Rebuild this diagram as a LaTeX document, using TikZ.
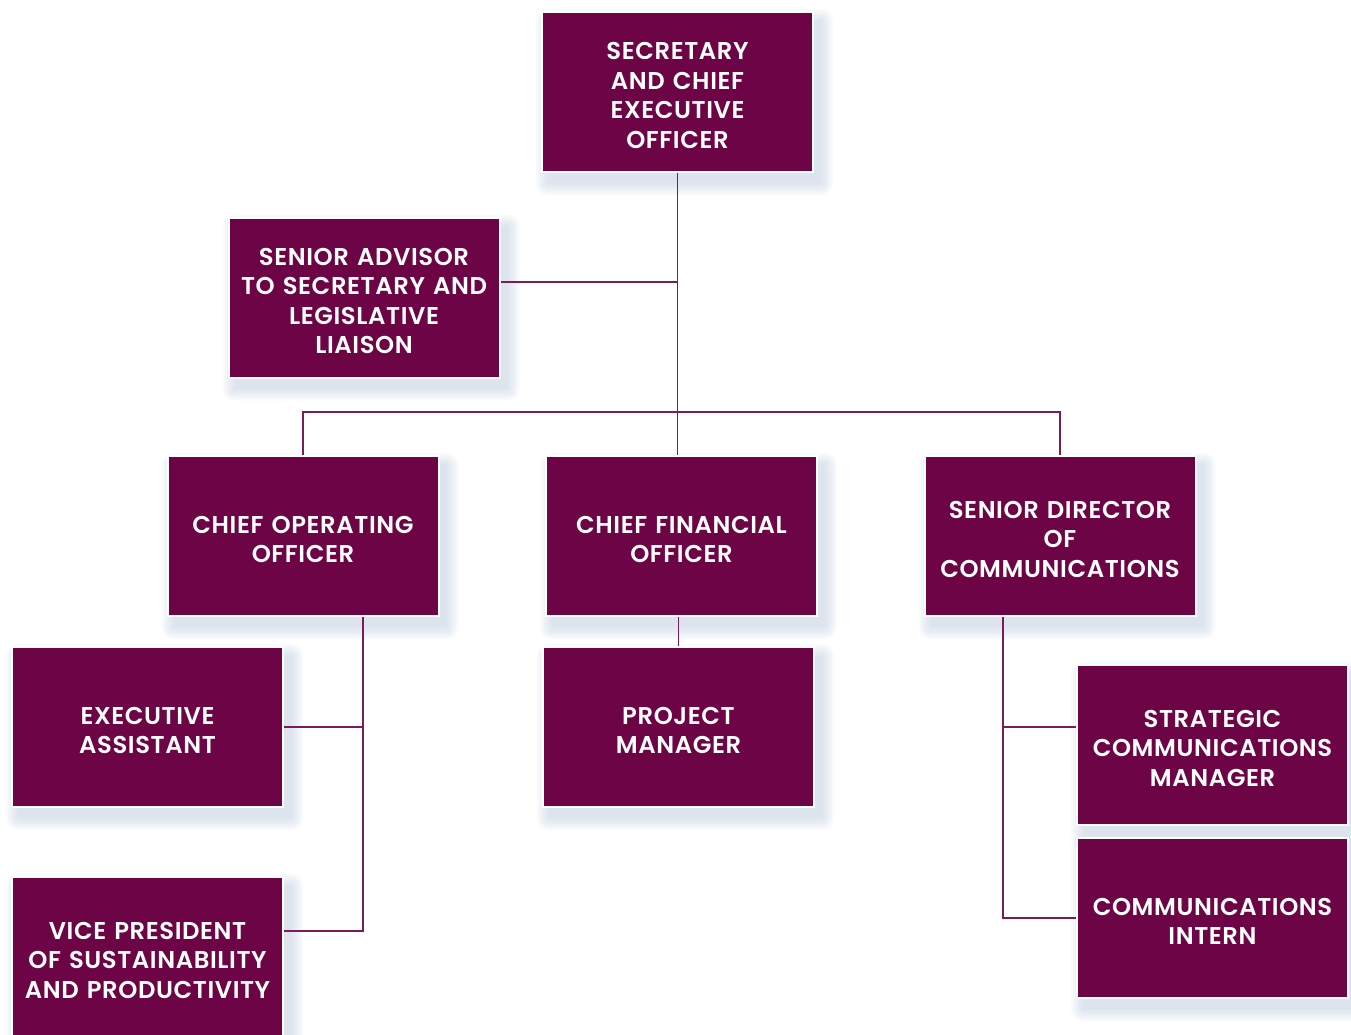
\documentclass[tikz,border=0pt]{standalone}
\usepackage{fontspec}
\setmainfont{Poppins SemiBold}[LetterSpace=2.5]
\usetikzlibrary{calc}
\definecolor{boxc}{HTML}{6D0445}
\definecolor{linec}{HTML}{7B1B57}
\definecolor{shc}{HTML}{B9C8DC}
\pgfdeclarelayer{shadow}
\pgfdeclarelayer{lines}
\pgfsetlayers{shadow,lines,main}
\tikzset{
  orgbox/.style={rectangle, fill=boxc, draw=white, line width=2pt,
    minimum width=271pt, minimum height=160pt, text width=266pt, align=center,
    text=white, inner sep=0pt,
    font=\fontsize{24.3}{29.5}\selectfont,
    execute at begin node={\rule{0pt}{24pt}}},
  conn/.style={draw=linec, line width=1.4pt}
}
\begin{document}
\begin{tikzpicture}[x=1pt,y=-1pt]
\useasboundingbox (0,0) rectangle (1351,1034);
\clip (0,0) rectangle (1351,1034);
\node[orgbox] (ceo) at (677.5,92) {SECRETARY\\AND CHIEF\\EXECUTIVE\\OFFICER};
\node[orgbox] (sa) at (364,297.5) {SENIOR ADVISOR\\TO SECRETARY AND\\LEGISLATIVE\\LIAISON};
\node[orgbox] (coo) at (303,536) {CHIEF OPERATING\\OFFICER};
\node[orgbox] (cfo) at (681.5,536) {CHIEF FINANCIAL\\OFFICER};
\node[orgbox] (sdc) at (1060,536) {SENIOR DIRECTOR\\OF\\COMMUNICATIONS};
\node[orgbox] (ea) at (147.5,727) {EXECUTIVE\\ASSISTANT};
\node[orgbox] (vp) at (147.5,957) {VICE PRESIDENT\\OF SUSTAINABILITY\\AND PRODUCTIVITY};
\node[orgbox] (pm) at (678.5,727) {PROJECT\\MANAGER};
\node[orgbox] (scm) at (1212.5,745) {STRATEGIC\\COMMUNICATIONS\\MANAGER};
\node[orgbox] (ci) at (1212.5,918) {COMMUNICATIONS\\INTERN};
\begin{pgfonlayer}{shadow}
\foreach \n in {ceo,sa,coo,cfo,sdc,ea,vp,pm,scm,ci}{
  \foreach \d in {0,2,...,12}{
    \fill[shc, opacity=0.09, rounded corners=\d pt]
      ($(\n.south west)+(7pt-\d pt,-10pt-\d pt)$) rectangle
      ($(\n.north east)+(7pt+\d pt,-10pt+\d pt)$);
  }
}
\end{pgfonlayer}
\begin{pgfonlayer}{lines}
\coordinate (bus) at (ceo.south |- 0,412);
\draw[conn] (ceo.south) -- (ceo.south |- cfo.north);
\draw[conn] ([yshift=15.5pt]sa.east) -- ([yshift=15.5pt]sa.east -| ceo.south);
\draw[conn] (coo.north) |- (bus) -| (sdc.north);
\coordinate (cb) at ([xshift=60pt]coo.south);
\draw[conn] (cb) |- ([yshift=26pt]vp.east);
\draw[conn] (ea.east) -| (cb);
\draw[conn] (cfo.south -| pm.north) -- (pm.north);
\coordinate (sb) at ([xshift=-57pt]sdc.south);
\draw[conn] (sb) |- (ci.west);
\draw[conn] ([yshift=18pt]scm.west) -| (sb);
\end{pgfonlayer}
\end{tikzpicture}
\end{document}
